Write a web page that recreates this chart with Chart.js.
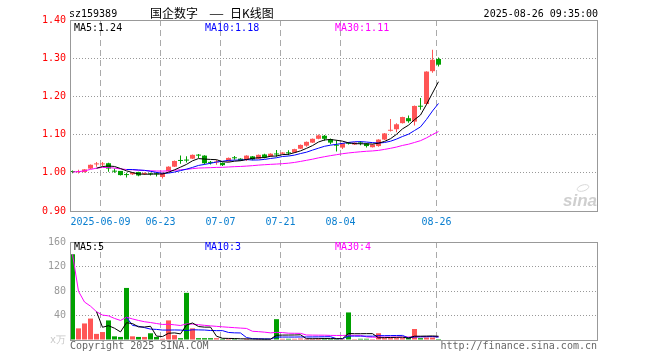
<!DOCTYPE html>
<html>
<head>
<meta charset="utf-8">
<script src="https://cdn.jsdelivr.net/npm/chart.js@4.4.1/dist/chart.umd.min.js"></script>
<style>
    body { margin: 0; background: #fff; }
    #wrap { position: relative; width: 660px; height: 360px; overflow: hidden; font-family: "DejaVu Sans Mono", monospace; font-size: 10px; }
    .t { position: absolute; white-space: nowrap; line-height: 12px; }
    .cjk { font-family: "Noto Sans CJK SC", sans-serif; font-size: 12px; line-height: 14px; }
    .dash { transform: scaleX(1.4); transform-origin: left center; }
    canvas { position: absolute; left: 0; }
</style>
</head>
<body>
<div id="wrap">
    <canvas id="priceChart" width="660" height="232" style="top:0"></canvas>
    <canvas id="volChart" width="660" height="128" style="top:232px"></canvas>

    <div class="t" style="left:69px;top:8px">sz159389</div>
    <div class="t cjk" style="left:150px;top:6px">国企数字</div>
    <div class="t cjk dash" style="left:209px;top:6px">—</div>
    <div class="t cjk" style="left:230px;top:6px">日K线图</div>
    <div class="t" style="right:62px;top:8px">2025-08-26 09:35:00</div>

    <div class="t" style="left:74px;top:22px;color:#000">MA5:1.24</div>
    <div class="t" style="left:205px;top:22px;color:#0000ff">MA10:1.18</div>
    <div class="t" style="left:335px;top:22px;color:#ff00ff">MA30:1.11</div>

    <div class="t" style="left:74px;top:241px;color:#000">MA5:5</div>
    <div class="t" style="left:205px;top:241px;color:#0000ff">MA10:3</div>
    <div class="t" style="left:335px;top:241px;color:#ff00ff">MA30:4</div>

    <div class="t" style="left:70px;top:340px;color:#666">Copyright 2025 SINA.COM</div>
    <div class="t" style="right:63px;top:340px;color:#666">http://finance.sina.com.cn</div>
</div>

<script>
// Daily candles (index 0 = first trading day shown)
const openP  = [1.004, 1.002, 1.002, 1.011, 1.022, 1.022, 1.025, 1.005, 1.005, 0.996,
                0.996, 1.002, 0.997, 0.998, 0.998, 0.989, 1.004, 1.016, 1.033, 1.034,
                1.037, 1.047, 1.045, 1.028, 1.027, 1.026, 1.030, 1.040, 1.037, 1.034,
                1.043, 1.037, 1.048, 1.043, 1.050, 1.050, 1.053, 1.053, 1.063, 1.071,
                1.079, 1.089, 1.097, 1.088, 1.073, 1.066, 1.078, 1.074, 1.079, 1.077,
                1.067, 1.070, 1.087, 1.110, 1.114, 1.130, 1.143, 1.134, 1.175, 1.180,
                1.266, 1.298];
const highP  = [1.006, 1.008, 1.010, 1.022, 1.028, 1.028, 1.026, 1.011, 1.005, 1.000,
                1.002, 1.003, 1.001, 1.000, 1.002, 1.001, 1.017, 1.032, 1.045, 1.043,
                1.048, 1.049, 1.046, 1.031, 1.034, 1.027, 1.040, 1.044, 1.038, 1.046,
                1.044, 1.048, 1.050, 1.051, 1.060, 1.054, 1.059, 1.063, 1.074, 1.082,
                1.090, 1.100, 1.099, 1.090, 1.085, 1.078, 1.080, 1.080, 1.083, 1.078,
                1.075, 1.088, 1.104, 1.141, 1.130, 1.147, 1.150, 1.176, 1.196, 1.266,
                1.322, 1.302];
const lowP   = [0.999, 0.998, 1.001, 1.010, 1.016, 1.018, 1.003, 1.000, 0.993, 0.988,
                0.994, 0.991, 0.994, 0.993, 0.990, 0.985, 1.003, 1.015, 1.024, 1.027,
                1.036, 1.039, 1.022, 1.022, 1.021, 1.018, 1.029, 1.034, 1.031, 1.031,
                1.033, 1.036, 1.038, 1.042, 1.042, 1.048, 1.046, 1.052, 1.062, 1.068,
                1.078, 1.088, 1.084, 1.075, 1.056, 1.062, 1.074, 1.073, 1.072, 1.066,
                1.066, 1.068, 1.086, 1.108, 1.106, 1.129, 1.131, 1.124, 1.165, 1.178,
                1.262, 1.278];
const closeP = [1.002, 1.004, 1.009, 1.021, 1.024, 1.024, 1.011, 1.003, 0.994, 0.994,
                1.001, 0.993, 0.999, 0.996, 0.996, 1.000, 1.016, 1.031, 1.031, 1.032,
                1.047, 1.045, 1.025, 1.026, 1.029, 1.020, 1.039, 1.038, 1.032, 1.045,
                1.035, 1.047, 1.040, 1.050, 1.048, 1.053, 1.051, 1.062, 1.073, 1.081,
                1.089, 1.098, 1.089, 1.079, 1.071, 1.077, 1.076, 1.079, 1.077, 1.070,
                1.074, 1.087, 1.103, 1.112, 1.127, 1.146, 1.135, 1.175, 1.173, 1.265,
                1.296, 1.283];
// Volume in 万
const volume = [140, 19, 27, 35, 10, 13, 32, 6, 5, 85,
                6, 5, 5, 11, 5, 2, 32, 8, 3, 77,
                19, 3, 3, 3, 3, 2, 2, 2, 1, 2,
                1, 1.5, 1.5, 1, 34, 2, 2, 2, 2.5, 2,
                2, 2.5, 3, 2, 1.5, 1.5, 45, 1.5, 2, 2,
                1.5, 11, 3, 3, 3, 3, 4, 18, 3, 4,
                4, 1.6];

// Axis labels
const dateIdx = [5, 15, 25, 35, 45, 61];
const dateLabels = ['2025-06-09', '06-23', '07-07', '07-21', '08-04', '08-26'];
const priceTicks = [0.9, 1.0, 1.1, 1.2, 1.3, 1.4];
const volTicks = [0, 40, 80, 120, 160];

const RED = '#ff5555';
const GREEN = '#00a000';
const FONT = { family: '"DejaVu Sans Mono", monospace', size: 10 };
const SLOT_MIN = -0.4167;   // puts candle 0 just right of the frame
const SLOT_MAX = 87.4167;   // empty slots to the right, as in the picture
const GRID_SHIFT = -1 / 3;  // date lines sit a little left of the candle centre

// Moving average; MA30 averages whatever days exist before day 30
function movingAvg(src, n, partial) {
    return src.map((_, i) => {
        if (i < n - 1 && !partial) return null;
        const part = src.slice(Math.max(0, i - n + 1), i + 1);
        return part.reduce((a, b) => a + b, 0) / part.length;
    });
}

const idx = closeP.map((_, i) => i);
const colors = idx.map(i => closeP[i] >= openP[i] ? RED : GREEN);

function lineSet(values, color) {
    return {
        type: 'line',
        data: idx.map(i => ({ x: i, y: values[i] })),
        borderColor: color,
        borderWidth: 1,
        pointRadius: 0,
        tension: 0,
        spanGaps: false,
        order: 0
    };
}

// Frame around the plot area
const framePlugin = {
    id: 'frame',
    afterDraw(chart) {
        const a = chart.chartArea;
        const c = chart.ctx;
        c.save();
        c.strokeStyle = '#999';
        c.lineWidth = 1;
        c.strokeRect(Math.round(a.left) + 0.5, Math.round(a.top) + 0.5,
            Math.round(a.right - a.left), Math.round(a.bottom - a.top));
        c.restore();
    }
};

// Faint sina mark in the lower right of the price panel
const markPlugin = {
    id: 'mark',
    beforeDatasetsDraw(chart) {
        const c = chart.ctx;
        c.save();
        c.fillStyle = '#cfcfcf';
        c.strokeStyle = '#d8d8d8';
        c.font = 'italic bold 17px "Liberation Sans", sans-serif';
        c.textAlign = 'right';
        c.fillText('sina', 597, 206);
        c.beginPath();
        c.ellipse(583, 188, 6, 3, -0.3, 0, Math.PI * 2);
        c.stroke();
        c.restore();
    }
};

function xScale(showLabels) {
    return {
        type: 'linear',
        min: SLOT_MIN,
        max: SLOT_MAX,
        bounds: 'data',
        offset: false,
        afterBuildTicks: s => { s.ticks = dateIdx.map(v => ({ value: v + GRID_SHIFT })); },
        afterFit: s => { s.height = showLabels ? 21 : 20; },
        grid: { color: '#aaa', lineWidth: 1, drawTicks: false, offset: false, borderDash: [6, 4] },
        border: { display: false, dash: [6, 4] },
        ticks: {
            display: showLabels,
            autoSkip: false,
            maxRotation: 0,
            padding: 5,
            color: '#0a7fd0',
            font: FONT,
            callback: (v, i) => dateLabels[i]
        }
    };
}

Chart.defaults.animation = false;

// Price panel
new Chart(document.getElementById('priceChart'), {
    type: 'bar',
    data: {
        datasets: [
            lineSet(movingAvg(closeP, 5), '#000000'),
            lineSet(movingAvg(closeP, 10), '#0000ff'),
            lineSet(movingAvg(closeP, 30, true), '#ff00ff'),
            {
                data: idx.map(i => ({ x: i, y: [openP[i], closeP[i]] })),
                backgroundColor: colors,
                barThickness: 5,
                minBarLength: 1,
                grouped: false,
                inflateAmount: 0,
                borderWidth: 0,
                order: 1
            },
            {
                data: idx.map(i => ({ x: i, y: [lowP[i], highP[i]] })),
                backgroundColor: colors,
                barThickness: 1,
                minBarLength: 1,
                grouped: false,
                inflateAmount: 0,
                borderWidth: 0,
                order: 2
            }
        ]
    },
    options: {
        responsive: false,
        devicePixelRatio: 1,
        layout: { padding: { left: 0, right: 63, top: 20, bottom: 0 } },
        plugins: { legend: { display: false }, tooltip: { enabled: false } },
        scales: {
            x: xScale(true),
            y: {
                min: 0.9,
                max: 1.4,
                afterBuildTicks: s => { s.ticks = priceTicks.map(v => ({ value: v })); },
                afterFit: s => { s.width = 70; },
                grid: { color: '#999', drawTicks: false, borderDash: [1, 2] },
                border: { display: false, dash: [1, 2] },
                ticks: {
                    padding: 4,
                    color: '#ff0000',
                    font: FONT,
                    callback: v => Number(v).toFixed(2)
                }
            }
        }
    },
    plugins: [framePlugin, markPlugin]
});

// Volume panel
new Chart(document.getElementById('volChart'), {
    type: 'bar',
    data: {
        datasets: [
            lineSet(movingAvg(volume, 5), '#000000'),
            lineSet(movingAvg(volume, 10), '#0000ff'),
            lineSet(movingAvg(volume, 30, true), '#ff00ff'),
            {
                data: idx.map(i => ({ x: i, y: volume[i] })),
                backgroundColor: colors,
                barThickness: 5,
                grouped: false,
                inflateAmount: 0,
                borderWidth: 0,
                order: 1
            }
        ]
    },
    options: {
        responsive: false,
        devicePixelRatio: 1,
        layout: { padding: { left: 0, right: 63, top: 8, bottom: 0 } },
        plugins: { legend: { display: false }, tooltip: { enabled: false } },
        scales: {
            x: xScale(false),
            y: {
                min: 0,
                max: 160,
                afterBuildTicks: s => { s.ticks = volTicks.map(v => ({ value: v })); },
                afterFit: s => { s.width = 70; },
                grid: { color: '#999', drawTicks: false, borderDash: [1, 2] },
                border: { display: false, dash: [1, 2] },
                ticks: {
                    padding: 4,
                    font: FONT,
                    color: c => c.tick && c.tick.value === 0 ? '#c8c8c8' : '#999',
                    callback: v => v === 0 ? 'x万' : String(v)
                }
            }
        }
    },
    plugins: [framePlugin]
});
</script>
</body>
</html>
